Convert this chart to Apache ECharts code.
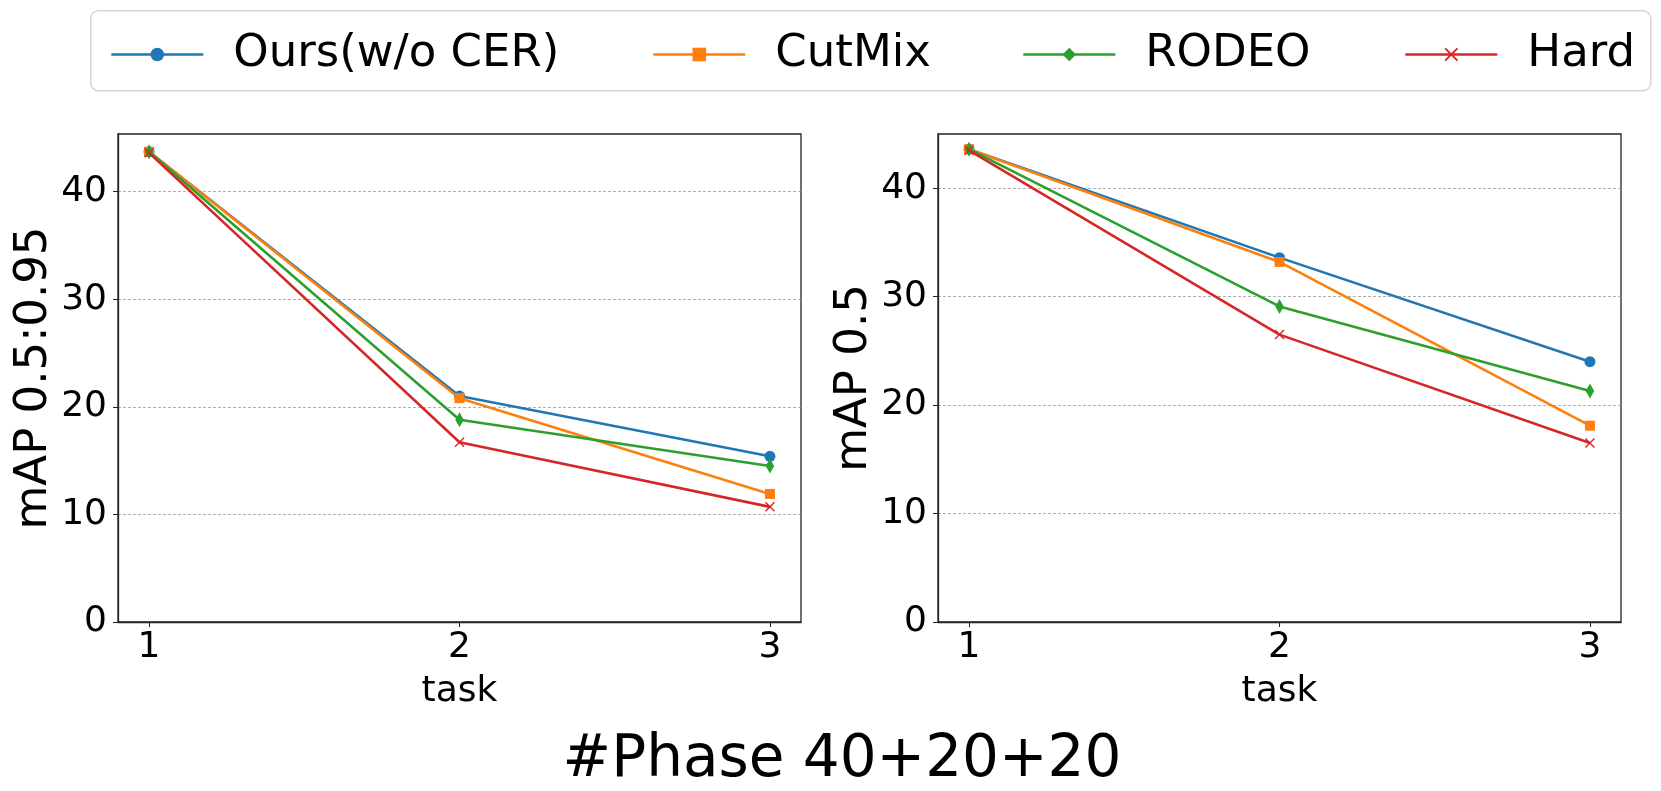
<!DOCTYPE html>
<html>
<head>
<meta charset="utf-8">
<script src="https://cdn.jsdelivr.net/npm/echarts@6/dist/echarts.min.js"></script>
<style>
html,body{margin:0;padding:0;background:#fff;}
#chart{width:1661px;height:791px;}
</style>
</head>
<body>
<div id="chart"></div>
<script>
const tasks = [1, 2, 3];
const seriesNames = ['Ours(w/o CER)', 'CutMix', 'RODEO', 'Hard'];
// left panel: mAP 0.5:0.95
const leftOurs   = [43.7, 21.0, 15.4];
const leftCutMix = [43.7, 20.8, 11.9];
const leftRodeo  = [43.7, 18.8, 14.5];
const leftHard   = [43.6, 16.7, 10.7];
// right panel: mAP 0.5
const rightOurs   = [43.6, 33.6, 24.0];
const rightCutMix = [43.6, 33.2, 18.1];
const rightRodeo  = [43.6, 29.1, 21.3];
const rightHard   = [43.5, 26.5, 16.5];
const yTicks = [0, 10, 20, 30, 40];
const titleText = '#Phase 40+20+20';

const colors = ['#1f77b4', '#ff7f0e', '#2ca02c', '#d62728'];
const xPath = 'path://M0,1 L1,0 L5,4 L9,0 L10,1 L6,5 L10,9 L9,10 L5,6 L1,10 L0,9 L4,5 Z';
const symbols = ['circle', 'rect', 'diamond', xPath];
const symbolSizes = [11, 10, [8.5, 15], 10];
const FONT = 'DejaVu Sans';

const chart = echarts.init(document.getElementById('chart'), null, {renderer: 'canvas'});

function makeSeries(vals, idx, axisIdx) {
  return {
    type: 'line',
    name: seriesNames[idx],
    xAxisIndex: axisIdx,
    yAxisIndex: axisIdx,
    data: tasks.map((t, i) => [t, vals[i]]),
    symbol: symbols[idx],
    symbolSize: symbolSizes[idx],
    showSymbol: true,
    lineStyle: {color: colors[idx], width: 2.6},
    itemStyle: {color: colors[idx]},
    emphasis: {disabled: true},
    animation: false,
    z: 2 + idx
  };
}

function makeX(gridIndex) {
  return {
    type: 'value', gridIndex: gridIndex,
    min: 0.9, max: 3.1,
    name: 'task', nameLocation: 'middle', nameGap: 52,
    nameTextStyle: {fontSize: 36, fontFamily: FONT, color: '#000'},
    axisLine: {show: true, lineStyle: {color: '#222', width: 1.3}},
    axisTick: {show: true, inside: false, length: 5, customValues: tasks, lineStyle: {color: '#222', width: 1}},
    axisLabel: {show: true, customValues: tasks, fontSize: 36, fontFamily: FONT, color: '#000', margin: 8},
    splitLine: {show: false}
  };
}
function makeY(gridIndex, max, name) {
  return {
    type: 'value', gridIndex: gridIndex,
    min: 0, max: max, interval: 10,
    name: name, nameLocation: 'middle', nameGap: 60,
    nameTextStyle: {fontSize: 45, fontFamily: FONT, color: '#000'},
    axisLine: {show: true, lineStyle: {color: '#222', width: 1.3}},
    axisTick: {show: true, inside: false, length: 5, customValues: yTicks, lineStyle: {color: '#222', width: 1}},
    axisLabel: {show: true, customValues: yTicks, fontSize: 36, fontFamily: FONT, color: '#000', margin: 11},
    splitLine: {show: true, lineStyle: {color: '#999', width: 0.8, type: [3, 2]}}
  };
}

const legendLefts = [105, 647, 1017, 1399];
const legends = seriesNames.map((n, i) => ({
  data: [n],
  left: legendLefts[i],
  top: 27,
  itemWidth: 92,
  itemHeight: 17,
  itemGap: 0,
  selectedMode: false,
  lineStyle: {width: 2.6},
  textStyle: {fontSize: 45, fontFamily: FONT, color: '#000', padding: [0, 0, 0, 25]}
}));

const option = {
  backgroundColor: '#fff',
  animation: false,
  title: {
    text: titleText, left: 837, top: 727, textAlign: 'center',
    textStyle: {fontSize: 58, fontFamily: FONT, color: '#000', fontWeight: 'normal'}
  },
  legend: legends,
  graphic: [{
    type: 'rect', left: 90, top: 10, silent: true, z: -1,
    shape: {width: 1560, height: 80, r: 8},
    style: {fill: '#fff', stroke: '#d5d5d5', lineWidth: 1.5}
  }],
  grid: [
    {left: 118, top: 134, width: 683, height: 488, show: true, borderColor: '#222', borderWidth: 1.3, containLabel: false},
    {left: 938, top: 134, width: 683, height: 488, show: true, borderColor: '#222', borderWidth: 1.3, containLabel: false}
  ],
  xAxis: [makeX(0), makeX(1)],
  yAxis: [makeY(0, 45.35, 'mAP 0.5:0.95'), makeY(1, 45.0, 'mAP 0.5')],
  series: [
    makeSeries(leftOurs, 0, 0), makeSeries(leftCutMix, 1, 0), makeSeries(leftRodeo, 2, 0), makeSeries(leftHard, 3, 0),
    makeSeries(rightOurs, 0, 1), makeSeries(rightCutMix, 1, 1), makeSeries(rightRodeo, 2, 1), makeSeries(rightHard, 3, 1)
  ]
};
chart.setOption(option);
</script>
</body>
</html>
